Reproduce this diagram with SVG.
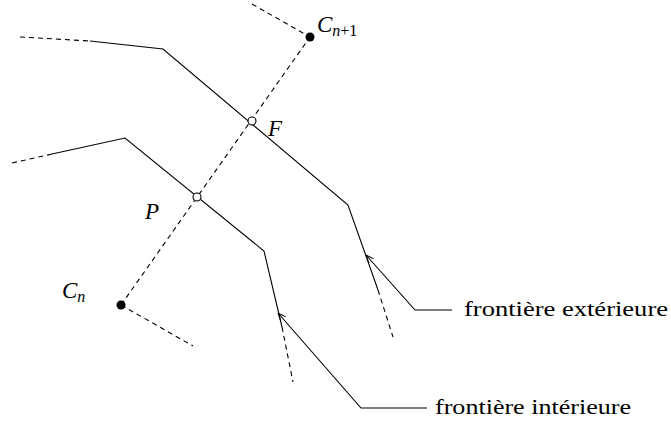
<svg xmlns="http://www.w3.org/2000/svg" width="671" height="421" viewBox="0 0 671 421">
<defs>
<marker id="ah" viewBox="0 0 10 10" refX="10" refY="5" markerWidth="8" markerHeight="8" markerUnits="userSpaceOnUse" orient="auto">
<path d="M0,1 L10,5 L0,9" fill="none" stroke="#000" stroke-width="1.2"/>
</marker>
<style>
.s{fill:none;stroke:#000;stroke-width:1.1}
.d{fill:none;stroke:#000;stroke-width:1.1;stroke-dasharray:5 4}
.m{font-family:"Liberation Serif",serif;font-style:italic;font-size:23px}
.si{font-family:"Liberation Serif",serif;font-style:italic;font-size:16px}
.su{font-family:"Liberation Serif",serif;font-style:normal;font-size:16px}
.t{font-family:"Liberation Serif",serif;font-size:22px}
</style>
</defs>
<rect width="671" height="421" fill="#fff"/>
<g id="connectors">
<path class="d" d="M20,37 L90,41"/>
<path class="s" d="M90,41 L163,49 L348,205 L378,290"/>
<path class="d" d="M378,290 L393,337"/>
<path class="d" d="M12,163 L52,154"/>
<path class="s" d="M52,154 L125,138 L264,251 L282,327"/>
<path class="d" d="M282,327 L293,382"/>
<path class="d" d="M121,305 L310,37"/>
<path class="d" d="M252,4 L310,37"/>
<path class="d" d="M121,305 L193,346"/>
<path class="s" d="M452,310 L415,310 L366,255" marker-end="url(#ah)"/>
<path class="s" d="M427,408 L361,408 L278,313" marker-end="url(#ah)"/>
</g>
<g id="Cn1"><circle cx="310" cy="37" r="4.5" fill="#000"/><text class="m" x="317" y="32">C<tspan class="si" dy="4">n</tspan><tspan class="su">+1</tspan></text></g>
<g id="Cn"><circle cx="121" cy="305" r="4.5" fill="#000"/><text class="m" x="62" y="298">C<tspan class="si" dy="4">n</tspan></text></g>
<g id="F"><circle cx="252" cy="121" r="4" fill="#fff" stroke="#000" stroke-width="1.1"/><text class="m" x="268" y="136">F</text></g>
<g id="P"><circle cx="197" cy="197" r="4" fill="#fff" stroke="#000" stroke-width="1.1"/><text class="m" x="145" y="219">P</text></g>
<g id="ext"><text class="t" x="464" y="316" textLength="204" lengthAdjust="spacingAndGlyphs">frontière extérieure</text></g>
<g id="int"><text class="t" x="435" y="414" textLength="196" lengthAdjust="spacingAndGlyphs">frontière intérieure</text></g>
</svg>
